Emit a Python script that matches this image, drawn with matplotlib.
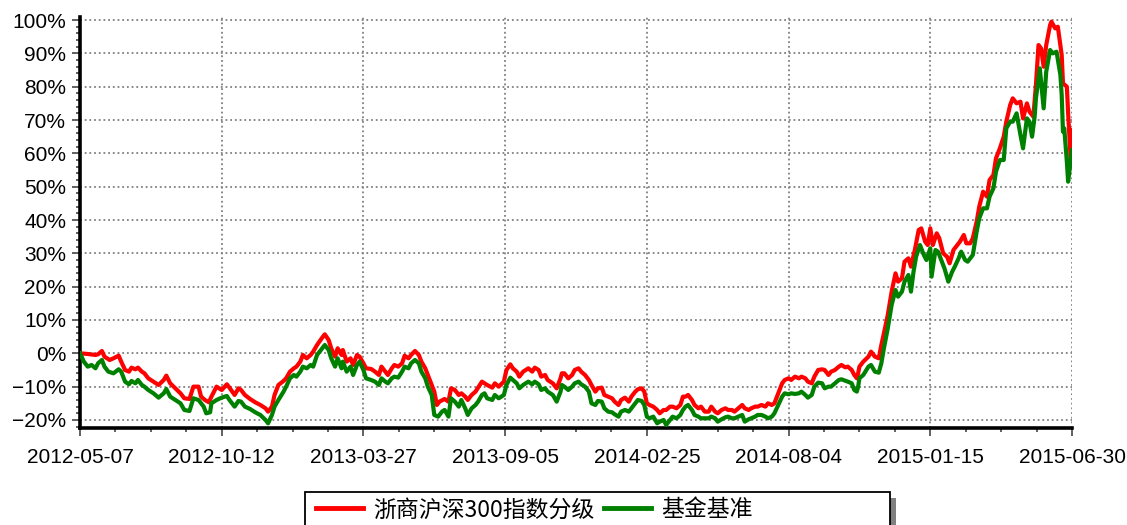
import matplotlib
matplotlib.use('Agg')
import matplotlib.pyplot as plt
from matplotlib.ticker import MultipleLocator, PercentFormatter, FixedLocator
from matplotlib.patches import Rectangle

plt.rcParams['font.family'] = ['Liberation Sans', 'Noto Sans CJK SC']

# x axis: trading-day index from 2012-05-07 (0) to 2015-06-30 (770)
tick_days = [0, 110, 220, 330, 440, 550, 660, 770]
tick_labels = ['2012-05-07', '2012-10-12', '2013-03-27', '2013-09-05',
               '2014-02-25', '2014-08-04', '2015-01-15', '2015-06-30']

series_names = ['浙商沪深300指数分级', '基金基准']

red_days = [0, 6, 12, 14, 17, 19, 23, 26, 30, 32, 35, 38, 40, 43, 45, 48, 50, 53, 57, 61,
            65, 67, 70, 74, 78, 81, 85, 88, 92, 94, 97, 100, 102, 106, 110, 114, 116, 120, 123, 125,
            128, 132, 136, 140, 144, 146, 149, 151, 154, 158,
            160, 163, 166, 168, 171, 173, 176, 179, 181, 184, 188, 190, 193, 195, 198, 200, 203, 204, 207, 210,
            212, 215, 217, 220, 222, 226, 229, 232, 234, 237, 239, 242, 244, 247, 250, 252, 255, 257, 260, 263,
            265, 268, 270, 273, 275, 277, 279, 283, 286, 288, 291, 294, 296, 299, 301, 304, 307, 309, 312, 314,
            316, 320, 322, 325, 329, 331, 334, 336, 339, 341, 344, 348, 351, 353, 356, 358, 361, 363, 367, 370,
            373, 374, 376, 379, 382, 384, 387, 389, 392, 395, 397, 400, 402, 405, 407, 410, 413, 415, 418, 420,
            423, 426, 428, 431, 433, 436, 438, 440, 442, 445, 448, 450, 453, 455, 458, 460, 463, 466, 468,
            470, 472, 475, 477, 480, 482, 485, 488, 490, 493, 495, 498, 501, 503, 506, 508, 511, 514, 516, 519,
            521, 524, 526, 529, 532, 534, 537, 539, 542, 545, 547, 550, 552, 555, 558, 560, 563, 565, 568, 570,
            573, 576, 578, 581, 583, 586, 589, 591, 594, 596, 599, 601, 603, 604, 605, 608, 612, 614, 617, 620,
            622, 624,
            627, 630, 633, 635, 638, 640, 643, 645, 648, 651, 653, 656, 658, 660, 662, 665, 667, 670, 673, 675,
            678, 680, 683, 686, 688, 691, 693, 696, 698, 701, 704, 706, 709, 711, 714, 717, 719, 722, 724, 727,
            730, 732, 735, 737, 740, 742, 744, 746, 748, 750, 753, 754, 757, 759, 762, 763, 766, 767, 769, 770]
red_vals = [0.0, -0.2, -0.5, -0.3, 0.7, -1.0, -2.0, -1.5, -0.7, -2.5, -5.0, -5.5, -4.3, -4.8, -4.3, -5.5, -6.0, -7.5, -8.5, -9.5,
            -8.0, -6.7, -9.0, -10.5, -12.0, -13.5, -13.7, -10.0, -10.0, -13.0, -14.0, -14.7, -13.0, -10.0, -11.0, -9.3, -10.3, -12.5, -10.5, -11.0,
            -12.5, -13.7, -14.7, -15.5, -16.5, -17.5, -16.0, -12.5, -9.5, -8.3,
            -7.5, -5.5, -4.5, -4.0, -2.5, -0.5, -1.5, -0.5, 0.5, 2.5, 4.7, 5.7, 4.0, 1.5, -1.0, 1.5, -0.5, 1.0, -2.5, -1.5,
            -3.5, -0.5, -1.0, -3.0, -4.5, -4.7, -5.5, -6.5, -4.0, -5.5, -6.5, -4.5, -3.5, -4.0, -3.0, -0.7, -1.5, -0.5, 0.7, -0.5,
            -2.5, -4.5, -6.5, -9.5, -11.5, -15.5, -14.5, -13.7, -14.5, -10.5, -11.0, -12.5, -12.0, -13.0, -14.0, -12.5, -11.5, -10.3, -8.5, -9.0,
            -9.5, -10.3, -9.0, -10.0, -8.5, -5.0, -3.3, -4.5, -5.5, -7.0, -5.5, -4.5, -5.5, -4.3, -5.0, -7.0, -6.5, -8.0, -9.0, -10.5,
            -7.5, -6.0, -6.0, -7.5, -6.5, -5.0, -4.5, -5.5, -6.5, -8.0, -9.5, -11.5, -10.5, -10.3, -12.5, -13.0, -13.5, -14.5, -15.5, -14.0,
            -13.3, -14.5, -13.0, -11.5, -10.8, -10.5, -11.5, -15.0, -15.5, -16.0, -17.0, -18.0, -17.0, -17.0, -16.0, -16.0, -16.5, -15.5, -13.0,
            -13.0, -12.5, -14.0, -15.5, -16.5, -16.0, -17.5, -17.5, -16.0, -17.5, -18.0, -17.0, -16.5, -17.0, -17.0, -17.5, -16.5, -15.5, -16.5, -17.0,
            -16.5, -16.0, -16.0, -15.5, -16.0, -15.0, -15.5, -15.0, -12.0, -9.0, -8.0, -7.5, -8.0, -7.0, -7.5, -7.0, -7.5, -8.5, -9.0, -7.0,
            -5.0, -4.8, -5.0, -6.5, -5.5, -5.0, -4.0, -3.5, -4.2, -4.0, -5.0, -6.5, -7.5, -6.0, -4.0, -2.5, -1.0, 0.5, -1.0, -1.5,
            2.5, 6.0,
            11.5, 18.5, 24.0, 21.5, 22.5, 27.5, 28.5, 26.0, 31.0, 37.0, 37.5, 33.5, 32.5, 37.5, 32.5, 36.0, 34.5, 30.0, 29.0, 27.0,
            31.0, 32.0, 33.5, 35.5, 33.0, 33.0, 34.5, 39.5, 44.0, 48.5, 47.0, 52.0, 53.5, 58.5, 61.5, 65.0, 69.5, 74.5, 76.5, 75.0,
            75.5, 70.5, 75.0, 72.5, 71.0, 80.5, 92.5, 91.5, 86.0, 92.5, 98.5, 99.5, 97.5, 98.0, 89.5, 81.0, 80.0, 72.0, 58.0, 67.0]

green_days = [0, 3, 6, 9, 12, 14, 17, 19, 22, 26, 30, 32, 35, 38, 40, 43, 45, 48, 50, 53,
              57, 61, 65, 67, 70, 74, 78, 81, 85, 88, 92, 96, 98, 101, 102, 106, 110, 114, 116, 120,
              123, 125, 128, 132, 136, 140, 144, 146, 149, 151, 154, 158,
              160, 163, 166, 168, 171, 173, 176, 179, 181, 184, 188, 190, 193, 195, 198, 200, 203, 204, 207, 210,
              212, 215, 217, 220, 222, 226, 229, 232, 234, 237, 239, 242, 244, 247, 250, 252, 255, 257, 260, 263,
              265, 268, 270, 273, 275, 278, 281, 283, 286, 288, 291, 294, 296, 299, 301, 304, 307, 309, 312, 314,
              316, 320, 322, 325, 329, 331, 334, 336, 339, 341, 344, 348, 351, 353, 356, 358, 361, 363, 367, 370,
              373, 374, 376, 379, 382, 384, 387, 389, 392, 395, 397, 400, 402, 405, 407, 410, 413, 415, 418, 420,
              423, 426, 428, 431, 433, 436, 438, 440, 442, 445, 448, 450, 453, 455, 458, 460, 463, 466, 468,
              470, 472, 475, 477, 480, 482, 485, 488, 490, 493, 495, 498, 501, 503, 506, 508, 511, 514, 516, 519,
              521, 524, 526, 529, 532, 534, 537, 539, 542, 545, 547, 550, 552, 555, 558, 560, 563, 565, 568, 570,
              573, 576, 578, 581, 583, 586, 589, 591, 594, 596, 599, 601, 603, 604, 605, 608, 612, 614, 617, 620,
              622, 624,
              627, 630, 633, 635, 638, 640, 643, 645, 647, 649, 652, 655, 657, 660, 661, 664, 666, 669, 671, 674,
              677, 679, 682, 684, 687, 689, 693, 696, 698, 701, 704, 706, 709, 711, 714, 717, 719, 722, 724, 727,
              730, 732, 735, 737, 739, 741, 742, 745, 748, 750, 753, 755, 758, 761, 762, 763, 764, 766, 767, 770]
green_vals = [0.0, -2.5, -4.0, -3.5, -4.5, -3.0, -2.0, -4.0, -5.5, -6.0, -4.8, -5.5, -8.5, -9.3, -8.3, -9.0, -8.0, -9.5, -10.0, -11.0,
              -12.0, -13.3, -12.0, -10.7, -13.0, -14.0, -15.0, -17.0, -17.3, -13.5, -14.0, -16.0, -18.0, -17.7, -15.0, -14.0, -13.3, -12.8, -14.0, -16.0,
              -14.3, -14.5, -16.0, -16.7, -17.7, -18.5, -20.0, -21.0, -18.5, -16.0, -14.0, -11.5,
              -10.0, -7.5, -6.5, -7.0, -5.5, -4.0, -4.5, -3.5, -4.0, -0.5, 1.5, 2.5, 1.0, -1.5, -4.0, -1.5, -4.5, -2.5, -5.5, -4.0,
              -6.5, -3.5, -2.5, -5.0, -7.5, -8.0, -8.5, -9.5, -7.5, -8.5, -9.0, -7.5, -7.0, -7.3, -5.5, -4.0, -4.5, -3.0, -2.0, -3.0,
              -5.5, -7.5, -10.0, -12.5, -18.5, -19.0, -17.5, -17.0, -19.0, -13.5, -14.5, -16.0, -14.0, -16.5, -18.5, -16.5, -15.5, -14.5, -12.5, -12.0,
              -13.5, -14.0, -12.5, -13.5, -12.5, -9.5, -7.3, -8.0, -9.0, -10.5, -9.5, -8.5, -9.3, -8.5, -9.3, -11.0, -10.5, -11.5, -12.5, -14.5,
              -11.5, -9.5, -10.0, -11.0, -10.0, -9.0, -8.5, -9.3, -10.0, -11.5, -15.0, -15.5, -14.3, -14.5, -16.5, -17.5, -17.7, -18.3, -19.0, -17.5,
              -17.0, -17.5, -16.5, -15.0, -14.0, -14.3, -15.5, -19.0, -19.5, -19.0, -21.0, -20.5, -20.0, -21.5, -20.0, -19.0, -19.5, -18.5, -17.0,
              -16.0, -15.5, -17.0, -18.5, -19.0, -19.5, -19.5, -19.5, -19.0, -19.5, -20.5, -19.8, -19.2, -19.0, -19.5, -19.5, -19.0, -18.5, -20.5, -19.8,
              -19.5, -19.0, -18.5, -18.5, -19.0, -19.5, -19.0, -18.0, -15.5, -13.0, -12.0, -12.3, -12.0, -12.2, -12.0, -11.5, -12.5, -13.3, -12.5, -10.0,
              -8.8, -9.0, -10.5, -10.0, -10.0, -9.0, -8.0, -7.8, -8.2, -8.5, -9.0, -11.0, -11.5, -10.0, -7.5, -6.5, -4.0, -3.5, -5.5, -5.8,
              -3.0, 1.5,
              7.5, 14.5, 19.0, 17.0, 18.5, 21.5, 23.5, 18.5, 24.5, 29.0, 32.5, 29.5, 28.0, 31.5, 23.0, 31.0, 30.5, 27.5, 25.5, 21.5,
              24.5, 26.0, 28.5, 30.5, 28.0, 27.5, 29.5, 36.5, 40.5, 43.5, 43.5, 47.0, 49.5, 54.5, 58.0, 58.0, 67.5, 69.5, 69.5, 72.0,
              65.5, 61.5, 70.5, 69.5, 65.0, 71.0, 76.5, 85.5, 73.5, 84.5, 91.0, 90.0, 90.5, 83.5, 77.5, 66.5, 67.5, 57.5, 51.5, 61.0]

W, H = 1127, 525
fig = plt.figure(figsize=(W / 100, H / 100), dpi=100)
ax = fig.add_axes([80 / W, 1 - 428.3 / H, 992 / W, (428.3 - 16.7) / H])

ax.plot(red_days, red_vals, color='#ff0000', lw=3.0, solid_joinstyle='round', zorder=3)
ax.plot(green_days, green_vals, color='#008000', lw=3.0, solid_joinstyle='round', zorder=4)

ax.set_xlim(0, 770)
ax.set_ylim(-22.5, 101)

ax.xaxis.set_major_locator(FixedLocator(tick_days))
ax.set_xticklabels(tick_labels)
ax.xaxis.set_minor_locator(MultipleLocator(27.5))
ax.yaxis.set_major_locator(MultipleLocator(10))
ax.yaxis.set_minor_locator(MultipleLocator(2))
ax.yaxis.set_major_formatter(PercentFormatter(xmax=100, decimals=0))

for s in ['top', 'right']:
    ax.spines[s].set_visible(False)
for s in ['left', 'bottom']:
    ax.spines[s].set_linewidth(2.6)
    ax.spines[s].set_color('black')

ax.set_axisbelow(True)
ax.grid(True, which='major', color='#808080', linestyle=(0, (1, 1.6)), linewidth=1.3)

ax.tick_params(axis='both', which='major', length=6, width=1.3, color='#555555',
               labelsize=15, direction='out')
ax.tick_params(axis='both', which='minor', length=3, width=1.3, color='#555555', direction='out')
ax.tick_params(axis='x', which='major', pad=8)
ax.tick_params(axis='y', which='major', pad=4)

# legend frame with shadow
fx0, fx1 = 305 / W, 890 / W
fy_top = 1 - 492 / H
fy_bot = -0.05
shadow = Rectangle((fx0 + 6 / W, fy_bot - 6 / H), fx1 - fx0, fy_top - fy_bot,
                   transform=fig.transFigure, facecolor='#808080', edgecolor='none', zorder=1)
frame = Rectangle((fx0, fy_bot), fx1 - fx0, fy_top - fy_bot,
                  transform=fig.transFigure, facecolor='white', edgecolor='black', lw=1.3, zorder=2)
fig.patches.extend([shadow, frame])

leg = fig.legend(ax.get_lines(), series_names, loc='center left',
                 bbox_to_anchor=(316 / W, 1 - 510 / H), ncol=2, frameon=False,
                 borderpad=0, borderaxespad=0, handlelength=2.05, handletextpad=0.45,
                 columnspacing=0.4, prop={'family': ['Noto Sans CJK SC'], 'size': 16.5})
leg.set_zorder(5)
for l in leg.get_lines():
    l.set_linewidth(3.5)

fig.savefig('out.png', dpi=100)
